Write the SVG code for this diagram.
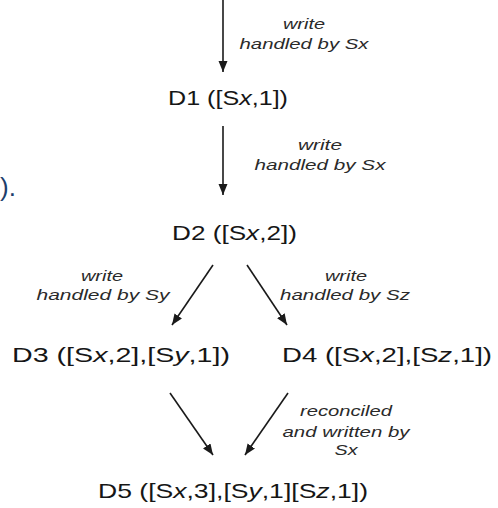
<svg xmlns="http://www.w3.org/2000/svg" width="498" height="508" viewBox="0 0 498 508">
<style>
.node{font-family:"Liberation Sans",Arial,sans-serif;font-size:21px;fill:#161616}
.lbl{font-family:"Liberation Sans",Arial,sans-serif;font-size:15px;font-style:italic;fill:#2a2a2a;text-anchor:middle}
.edge{stroke:#1a1a1a;stroke-width:1.6;fill:none;marker-end:url(#ah)}
</style>
<defs>
<marker id="ah" markerUnits="userSpaceOnUse" markerWidth="12" markerHeight="10" refX="11" refY="4.5" orient="auto">
<path d="M0,0 L11,4.5 L0,9 z" fill="#1a1a1a"/>
</marker>
</defs>
<rect width="498" height="508" fill="#ffffff"/>
<text x="0" y="196" style="font-family:'Liberation Sans',Arial,sans-serif;font-size:26px;fill:#1d3e6b">).</text>
<g id="connectors">
<line class="edge" x1="223" y1="0" x2="223" y2="72"/>
<line class="edge" x1="223" y1="126" x2="223" y2="195"/>
<line class="edge" x1="213" y1="265" x2="172" y2="325"/>
<line class="edge" x1="247" y1="265" x2="287" y2="325"/>
<line class="edge" x1="170" y1="393" x2="213" y2="455"/>
<line class="edge" x1="288" y1="393" x2="245" y2="455"/>
<g id="labels">
<text class="lbl" x="304" y="29" textLength="42" lengthAdjust="spacingAndGlyphs">write</text>
<text class="lbl" x="304" y="49" textLength="129" lengthAdjust="spacingAndGlyphs">handled by Sx</text>
<text class="lbl" x="320" y="150" textLength="44" lengthAdjust="spacingAndGlyphs">write</text>
<text class="lbl" x="320" y="170" textLength="131" lengthAdjust="spacingAndGlyphs">handled by Sx</text>
<text class="lbl" x="102" y="281" textLength="42" lengthAdjust="spacingAndGlyphs">write</text>
<text class="lbl" x="103" y="300" textLength="133" lengthAdjust="spacingAndGlyphs">handled by Sy</text>
<text class="lbl" x="346" y="281" textLength="42" lengthAdjust="spacingAndGlyphs">write</text>
<text class="lbl" x="345" y="300" textLength="130" lengthAdjust="spacingAndGlyphs">handled by Sz</text>
<text class="lbl" x="346" y="416" textLength="92" lengthAdjust="spacingAndGlyphs">reconciled</text>
<text class="lbl" x="346" y="437" textLength="127" lengthAdjust="spacingAndGlyphs">and written by</text>
<text class="lbl" x="346" y="455" textLength="23" lengthAdjust="spacingAndGlyphs">Sx</text>
</g>
</g>
<g id="D1"><text class="node" x="168" y="105" textLength="120" lengthAdjust="spacingAndGlyphs">D1 ([S<tspan font-style="italic">x</tspan>,1])</text></g>
<g id="D2"><text class="node" x="172" y="240" textLength="125" lengthAdjust="spacingAndGlyphs">D2 ([S<tspan font-style="italic">x</tspan>,2])</text></g>
<g id="D3"><text class="node" x="12" y="362" textLength="218" lengthAdjust="spacingAndGlyphs">D3 ([S<tspan font-style="italic">x</tspan>,2],[S<tspan font-style="italic">y</tspan>,1])</text></g>
<g id="D4"><text class="node" x="282" y="362" textLength="210" lengthAdjust="spacingAndGlyphs">D4 ([S<tspan font-style="italic">x</tspan>,2],[S<tspan font-style="italic">z</tspan>,1])</text></g>
<g id="D5"><text class="node" x="98" y="498" textLength="270" lengthAdjust="spacingAndGlyphs">D5 ([S<tspan font-style="italic">x</tspan>,3],[S<tspan font-style="italic">y</tspan>,1][S<tspan font-style="italic">z</tspan>,1])</text></g>
</svg>
